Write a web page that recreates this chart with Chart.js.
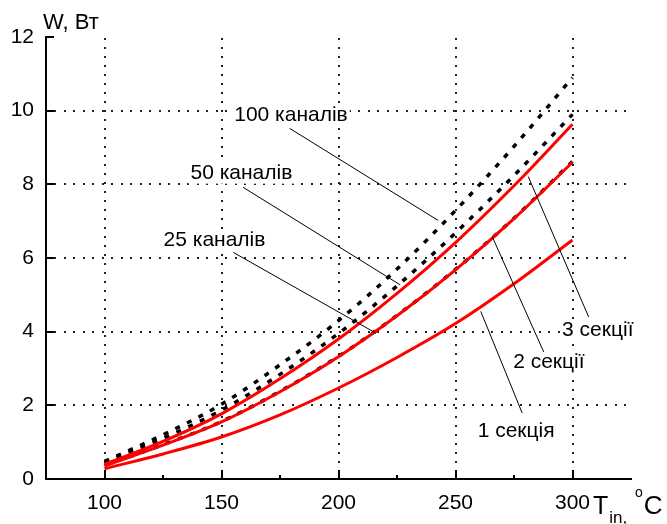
<!DOCTYPE html>
<html>
<head>
<meta charset="utf-8">
<title>W, Вт — T_in</title>
<script src="https://cdn.jsdelivr.net/npm/chart.js@4.4.0/dist/chart.umd.min.js"></script>
<style>
  html, body { margin: 0; padding: 0; background: #fff; }
  #wrap { width: 667px; height: 524px; }
</style>
</head>
<body>
<div id="wrap"><canvas id="powerChart" width="667" height="524"></canvas></div>
<script>
// inlet temperature, °C
const temps = [100, 125, 150, 175, 200, 225, 250, 275, 300];

// power, W — number of sections (red solid)
const sec1 = [0.28, 0.68, 1.14, 1.74, 2.47, 3.30, 4.22, 5.30, 6.49];
const sec2 = [0.36, 0.92, 1.55, 2.37, 3.32, 4.43, 5.68, 7.07, 8.60];
const sec3 = [0.40, 1.02, 1.77, 2.72, 3.80, 5.04, 6.42, 7.96, 9.63];

// power, W — number of channels (black dotted)
const ch25 = [0.37, 0.93, 1.56, 2.38, 3.33, 4.44, 5.69, 7.08, 8.62];
const ch50 = [0.45, 1.10, 1.87, 2.84, 3.95, 5.24, 6.68, 8.24, 9.90];
const ch100 = [0.48, 1.20, 2.03, 3.10, 4.30, 5.70, 7.29, 9.03, 10.90];

const xTicks = [100, 150, 200, 250, 300];
const xMinor = [125, 175, 225, 275];
const yTicks = [0, 2, 4, 6, 8, 10, 12];
const yGrid = [2, 4, 6, 8, 10];

const FONT = '"Liberation Sans", Arial, sans-serif';

// callout labels: text centre and leader line, in data units
const notes = [
  { text: '100 каналів', at: [179.7, 9.88], from: [179.1, 9.52], to: [242.6, 7.02] },
  { text: '50 каналів',  at: [158.5, 8.29], from: [159.2, 7.92], to: [226.4, 5.27] },
  { text: '25 каналів',  at: [147.0, 6.47], from: [155.1, 6.15], to: [216.0, 3.96] },
  { text: '3 секції',    at: [310.8, 4.05], from: [281.1, 8.21], to: [306.9, 4.40] },
  { text: '2 секції',    at: [289.9, 3.16], from: [265.7, 6.58], to: [287.7, 3.45] },
  { text: '1 секція',    at: [275.9, 1.31], from: [260.8, 4.55], to: [278.5, 1.79] }
];

function pts(arr) {
  return temps.map((t, i) => ({ x: t, y: arr[i] }));
}

function redLine(arr) {
  return {
    data: pts(arr),
    borderColor: '#ff0000',
    borderWidth: 3,
    pointRadius: 0,
    cubicInterpolationMode: 'monotone',
    fill: false
  };
}

function dotLine(arr) {
  return {
    data: pts(arr),
    borderColor: '#000000',
    borderWidth: 3.5,
    borderDash: [5, 8],
    pointRadius: 0,
    cubicInterpolationMode: 'monotone',
    fill: false
  };
}

function seg(ctx, x1, y1, x2, y2) {
  ctx.beginPath();
  ctx.moveTo(x1, y1);
  ctx.lineTo(x2, y2);
  ctx.stroke();
}

// dotted grid, inward ticks, callouts and axis titles
const decor = {
  id: 'decor',
  afterDraw(chart) {
    const { ctx, chartArea: area, scales: { x, y } } = chart;
    const px = v => x.getPixelForValue(v);
    const py = v => y.getPixelForValue(v);
    const top = Math.round(area.top);
    const bottom = Math.round(area.bottom);
    const left = Math.round(area.left);
    const right = Math.round(area.right);
    ctx.save();
    ctx.setLineDash([]);

    // grid dots slide underneath the curves
    ctx.globalCompositeOperation = 'destination-over';
    ctx.fillStyle = '#222';
    xTicks.forEach(v => {
      const gx = Math.round(px(v)) - 1;
      for (let gy = bottom - 9; gy > top; gy -= 9) ctx.fillRect(gx, gy, 2, 2);
    });
    yGrid.forEach(v => {
      const gy = Math.round(py(v)) - 1;
      for (let gx = left + 8; gx < right - 4; gx += 9.5) ctx.fillRect(Math.round(gx), gy, 2, 2);
    });
    ctx.globalCompositeOperation = 'source-over';

    // inward ticks
    ctx.strokeStyle = '#000';
    ctx.lineWidth = 2;
    yTicks.forEach(v => seg(ctx, left, Math.round(py(v)), left + 8, Math.round(py(v))));
    xTicks.forEach(v => seg(ctx, Math.round(px(v)), bottom, Math.round(px(v)), bottom - 9));
    xMinor.forEach(v => seg(ctx, Math.round(px(v)), bottom, Math.round(px(v)), bottom - 4));

    // callout backgrounds
    ctx.font = '21px ' + FONT;
    ctx.fillStyle = '#fff';
    notes.forEach(n => {
      const w = ctx.measureText(n.text).width;
      ctx.fillRect(px(n.at[0]) - w / 2 - 2, py(n.at[1]) - 10, w + 4, 20);
    });

    // leader lines
    ctx.lineWidth = 1;
    notes.forEach(n => seg(ctx, px(n.from[0]), py(n.from[1]), px(n.to[0]), py(n.to[1])));

    // callout text
    ctx.fillStyle = '#000';
    ctx.textAlign = 'center';
    ctx.textBaseline = 'middle';
    notes.forEach(n => ctx.fillText(n.text, px(n.at[0]), py(n.at[1])));

    // axis titles
    ctx.textAlign = 'left';
    ctx.font = '22px ' + FONT;
    ctx.fillText('W, Вт', area.left - 3, area.top - 14);

    ctx.textBaseline = 'alphabetic';
    let cx = 593;
    const base = 514;
    ctx.font = '25px ' + FONT;
    ctx.fillText('T', cx, base);
    cx += ctx.measureText('T').width + 1;
    ctx.font = '17px ' + FONT;
    ctx.fillText('in', cx, base + 9);
    cx += ctx.measureText('in').width;
    ctx.fillText(',', cx, base + 9);
    cx += ctx.measureText(', ').width + 3;
    ctx.font = '14px ' + FONT;
    ctx.fillText('o', cx, base - 17);
    cx += ctx.measureText('o').width + 1;
    ctx.font = '26px ' + FONT;
    ctx.fillText('C', cx, base);
    ctx.restore();
  }
};

new Chart(document.getElementById('powerChart'), {
  type: 'line',
  data: {
    datasets: [
      redLine(sec1), redLine(sec2), redLine(sec3),
      dotLine(ch25), dotLine(ch50), dotLine(ch100)
    ]
  },
  options: {
    responsive: false,
    animation: false,
    events: [],
    layout: { padding: { top: 37, right: 36, left: 0, bottom: 0 } },
    plugins: { legend: { display: false }, tooltip: { enabled: false } },
    scales: {
      x: {
        type: 'linear',
        min: 75,
        max: 325,
        afterBuildTicks: s => { s.ticks = xTicks.map(v => ({ value: v })); },
        afterFit: s => { s.height = 45; },
        ticks: { color: '#000', font: { family: FONT, size: 21 }, padding: 12 },
        grid: { display: false, drawTicks: false },
        border: { display: true, color: '#000', width: 2 }
      },
      y: {
        min: 0,
        max: 12,
        afterBuildTicks: s => { s.ticks = yTicks.map(v => ({ value: v })); },
        afterFit: s => { s.width = 46; },
        ticks: { color: '#000', font: { family: FONT, size: 21 }, padding: 12 },
        grid: { display: false, drawTicks: false },
        border: { display: true, color: '#000', width: 2 }
      }
    }
  },
  plugins: [decor]
});
</script>
</body>
</html>
